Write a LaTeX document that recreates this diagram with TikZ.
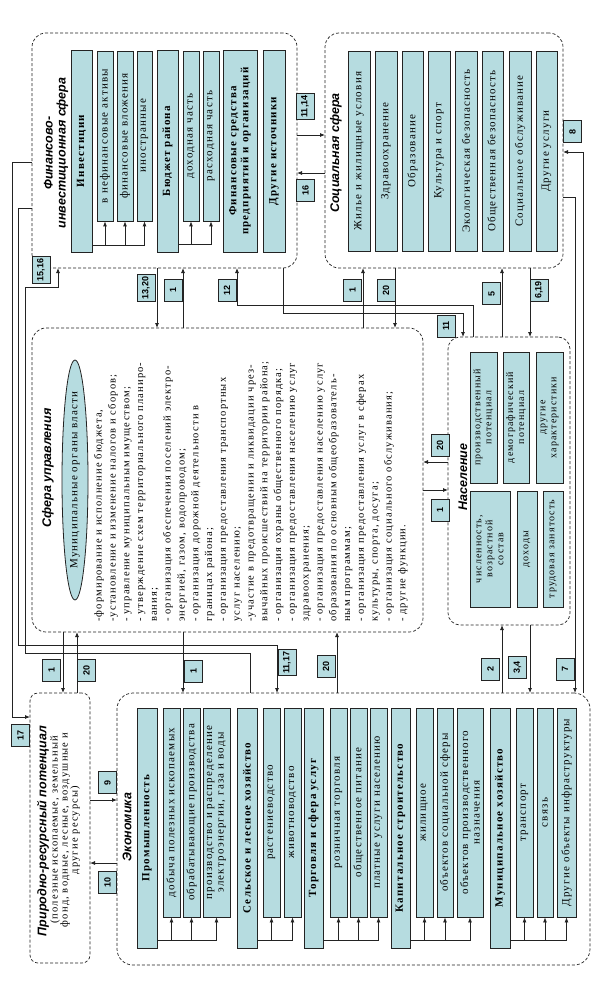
\documentclass[tikz,border=0pt]{standalone}
\usepackage{fontspec}
\setmainfont{Liberation Serif}
\newfontfamily\rusfont[LetterSpace=11]{Liberation Serif}
\newfontfamily\headfont{Liberation Sans}
\usepackage{graphicx}
\usetikzlibrary{shapes.geometric, arrows.meta, positioning, calc}
\definecolor{barfill}{RGB}{182, 220, 224}
\definecolor{lineblack}{RGB}{35, 35, 35}
\tikzset{
  >=Latex,
  flowarrow/.style={-{Latex[length=5pt, width=4pt]}, line width=0.8pt, lineblack}
}

\begin{document}
\begin{tikzpicture}[
    x=1pt, y=-1pt,
    spherebox/.style={rectangle, draw=lineblack, dash pattern=on 3pt off 2pt, line width=0.7pt, rounded corners=14pt, inner sep=0pt, outer sep=0pt},
    itembar/.style={rectangle, draw=lineblack, fill=barfill, line width=0.8pt, rotate=90, inner sep=1pt, align=center, font=\rusfont\fontsize{11}{11.5}\selectfont},
    headbar/.style={itembar, font=\rusfont\bfseries\fontsize{11}{12}\selectfont},
    popbar/.style={itembar, font=\rusfont\fontsize{10}{11}\selectfont},
    spheretitle/.style={rotate=90, align=center, inner sep=0pt, font=\headfont\bfseries\itshape\fontsize{12.5}{13}\selectfont},
    numlabel/.style={rectangle, draw=lineblack, fill=barfill, line width=0.8pt, inner sep=2pt, minimum width=18pt, minimum height=22pt, font=\headfont\bfseries\fontsize{9}{11}\selectfont}
]
    \path[use as bounding box, fill=white] (0,0) rectangle (600,984);

    % Spheres
    \node[spherebox, minimum width=265pt, minimum height=235pt] (fin) at (164.5,150.5) {};
    \node[spherebox, minimum width=238pt, minimum height=235pt] (soc) at (444,150.5) {};
    \node[spherebox, minimum width=391pt, minimum height=304pt] (mgmt) at (227.5,480) {};
    \node[spherebox, minimum width=122pt, minimum height=288pt, rounded corners=12pt] (pop) at (509,481) {};
    \node[spherebox, minimum width=60pt, minimum height=270pt, rounded corners=8pt] (nat) at (60,828) {};
    \node[spherebox, minimum width=473pt, minimum height=272pt, rounded corners=16pt] (eco) at (353.5,829) {};

    % Titles
    \node[spheretitle] (fintitle) at (56,153) {Финансово-\\инвестиционная сфера};
    \node[spheretitle] (soctitle) at (336,153) {Социальная сфера};
    \node[spheretitle] (mgmttitle) at (48,468) {Сфера управления};
    \node[spheretitle] (poptitle) at (463,477) {Население};
    \node[spheretitle] (nattitle) at (43,831) {Природно-ресурсный потенциал};
    \node[spheretitle] (ecotitle) at (127,827) {Экономика};
    \node[rotate=90, align=center, inner sep=0pt, font=\rusfont\fontsize{10.5}{10}\selectfont] (natnote) at (65,830) {(полезные ископаемые, земельный\\фонд, водные, лесные, воздушные и\\другие ресурсы)};

    % Financial sphere
    \node[headbar, minimum width=202pt, minimum height=21pt] (invest) at (81.5,151) {Инвестиции};
    \node[itembar, minimum width=170pt, minimum height=16pt] (investA) at (105,136) {в нефинансовые активы};
    \node[itembar, minimum width=170pt, minimum height=16pt] (investB) at (125,136) {финансовые вложения};
    \node[itembar, minimum width=170pt, minimum height=15pt] (investC) at (144.5,136) {иностранные};
    \node[headbar, minimum width=202pt, minimum height=21pt] (budget) at (167.5,151) {Бюджет района};
    \node[itembar, minimum width=170pt, minimum height=16pt] (budgetA) at (191,136) {доходная часть};
    \node[itembar, minimum width=170pt, minimum height=16pt] (budgetB) at (211,136) {расходная часть};
    \node[headbar, minimum width=202pt, minimum height=34pt] (firms) at (240,151) {Финансовые средства\\предприятий и организаций};
    \node[headbar, minimum width=202pt, minimum height=22pt] (othersrc) at (274,151) {Другие источники};

    % Social sphere
    \node[itembar, minimum width=200pt, minimum height=22pt] (housing) at (359,151) {Жилье и жилищные условия};
    \node[itembar, minimum width=200pt, minimum height=22pt] (health) at (386,151) {Здравоохранение};
    \node[itembar, minimum width=200pt, minimum height=21pt] (educ) at (412.5,151) {Образование};
    \node[itembar, minimum width=200pt, minimum height=22pt] (culture) at (439,151) {Культура и спорт};
    \node[itembar, minimum width=200pt, minimum height=22pt] (ecosafe) at (466,151) {Экологическая безопасность};
    \node[itembar, minimum width=200pt, minimum height=21pt] (pubsafe) at (492.5,151) {Общественная безопасность};
    \node[itembar, minimum width=200pt, minimum height=22pt] (socserv) at (520,151) {Социальное обслуживание};
    \node[itembar, minimum width=200pt, minimum height=21pt] (othserv) at (546.5,151) {Другие услуги};

    % Management sphere
    \node[ellipse, draw=lineblack, fill=barfill, line width=0.8pt, rotate=90, minimum width=240pt, minimum height=26pt, inner sep=0pt, font=\rusfont\fontsize{11}{12}\selectfont] (organs) at (75,480) {\makebox[0pt]{Муниципальные органы власти}};
    \node[rotate=90, anchor=north west, align=left, inner sep=0pt, font=\rusfont\fontsize{10.5}{13.8}\selectfont] (tasks) at (94,622) {-формирование и исполнение бюджета,\\
-установление и изменение налогов и сборов;\\
- управление муниципальным имуществом;\\
- утверждение схем территориального планиро-\\
вания;\\
- организация обеспечения поселений электро-\\
энергией, газом, водопроводом;\\
- организация дорожной деятельности в\\
границах района;\\
- организация предоставления транспортных\\
услуг населению;\\
-участие в предотвращении и ликвидации чрез-\\
вычайных происшествий на территории района;\\
- организация охраны общественного порядка;\\
- организация предоставления населению услуг\\
здравоохранения;\\
- организация предоставления населению услуг\\
образования по основным общеобразователь-\\
ным программам;\\
- организация предоставления услуг  в сферах\\
культуры, спорта, досуга;\\
- организация социального обслуживания;\\
- другие функции.};

    % Population
    \node[popbar, minimum width=131pt, minimum height=27pt] (prodpot) at (483.5,417.5) {производственный\\потенциал};
    \node[popbar, minimum width=131pt, minimum height=26pt] (demopot) at (516,417.5) {демографический\\потенциал};
    \node[popbar, minimum width=131pt, minimum height=27pt] (otherchar) at (549.5,417.5) {другие\\характеристики};
    \node[popbar, minimum width=116pt, minimum height=40pt] (number) at (490,549) {численность,\\возрастной\\состав};
    \node[popbar, minimum width=116pt, minimum height=20pt] (income) at (527,549) {доходы};
    \node[popbar, minimum width=116pt, minimum height=20pt] (labour) at (553,549) {трудовая занятость};

    % Economy
    \node[headbar, minimum width=240pt, minimum height=20pt] (industry) at (147,828) {Промышленность};
    \node[itembar, minimum width=209pt, minimum height=17pt] (industryA) at (171.5,812.5) {добыча полезных ископаемых};
    \node[itembar, minimum width=209pt, minimum height=17pt] (industryB) at (191.5,812.5) {обрабатывающие производства};
    \node[itembar, minimum width=209pt, minimum height=27pt] (industryC) at (216.5,812.5) {производство и распределение\\электроэнергии, газа и воды};
    \node[headbar, minimum width=240pt, minimum height=20pt] (agri) at (247,828) {Сельское и лесное хозяйство};
    \node[itembar, minimum width=209pt, minimum height=17pt] (agriA) at (271.5,812.5) {растениеводство};
    \node[itembar, minimum width=209pt, minimum height=17pt] (agriB) at (292.5,812.5) {животноводство};
    \node[headbar, minimum width=240pt, minimum height=19pt] (trade) at (313.5,828) {Торговля и сфера услуг};
    \node[itembar, minimum width=209pt, minimum height=17pt] (tradeA) at (338.5,812.5) {розничная торговля};
    \node[itembar, minimum width=209pt, minimum height=17pt] (tradeB) at (358.5,812.5) {общественное питание};
    \node[itembar, minimum width=209pt, minimum height=17pt] (tradeC) at (378.5,812.5) {платные услуги населению};
    \node[headbar, minimum width=240pt, minimum height=19pt] (build) at (400.5,828) {Капитальное строительство};
    \node[itembar, minimum width=209pt, minimum height=17pt] (buildA) at (424.5,812.5) {жилищное};
    \node[itembar, minimum width=209pt, minimum height=16pt] (buildB) at (445,812.5) {объектов социальной сферы};
    \node[itembar, minimum width=209pt, minimum height=26pt] (buildC) at (470,812.5) {объектов производственного\\назначения};
    \node[headbar, minimum width=240pt, minimum height=20pt] (munic) at (500,828) {Муниципальное хозяйство};
    \node[itembar, minimum width=209pt, minimum height=17pt] (municA) at (524.5,812.5) {транспорт};
    \node[itembar, minimum width=209pt, minimum height=16pt] (municB) at (545,812.5) {связь};
    \node[itembar, minimum width=209pt, minimum height=19pt] (municC) at (566.5,812.5) {Другие объекты инфраструктуры};

    % Arrows inside spheres
    \draw[flowarrow] ([yshift=7pt]invest.south west) -| (investA.west);
    \draw[flowarrow] ([yshift=7pt]invest.south west) -| (investB.west);
    \draw[flowarrow] ([yshift=7pt]invest.south west) -| (investC.west);
    \draw[flowarrow] ([yshift=8pt]budget.south west) -| (budgetA.west);
    \draw[flowarrow] ([yshift=8pt]budget.south west) -| (budgetB.west);
    \draw[flowarrow] ([yshift=8pt]industry.south west) -| (industryA.west);
    \draw[flowarrow] ([yshift=8pt]industry.south west) -| (industryB.west);
    \draw[flowarrow] ([yshift=8pt]industry.south west) -| (industryC.west);
    \draw[flowarrow] ([yshift=8pt]agri.south west) -| (agriA.west);
    \draw[flowarrow] ([yshift=8pt]agri.south west) -| (agriB.west);
    \draw[flowarrow] ([yshift=8pt]trade.south west) -| (tradeA.west);
    \draw[flowarrow] ([yshift=8pt]trade.south west) -| (tradeB.west);
    \draw[flowarrow] ([yshift=8pt]trade.south west) -| (tradeC.west);
    \draw[flowarrow] ([yshift=8pt]build.south west) -| (buildA.west);
    \draw[flowarrow] ([yshift=8pt]build.south west) -| (buildB.west);
    \draw[flowarrow] ([yshift=8pt]build.south west) -| (buildC.west);
    \draw[flowarrow] ([yshift=8pt]munic.south west) -| (municA.west);
    \draw[flowarrow] ([yshift=8pt]munic.south west) -| (municB.west);
    \draw[flowarrow] ([yshift=8pt]munic.south west) -| (municC.west);

    % Arrows between spheres
    \draw[flowarrow] (fin.east |- 0,135) -- (soc.west |- 0,135);
    \draw[flowarrow] (soc.west |- 0,173) -- (fin.east |- 0,173);
    \draw[flowarrow] (soc.east |- 0,197) -| (eco.north -| 575,0);
    \draw[flowarrow] (eco.north -| 583,0) |- (soc.east |- 0,152);
    \draw[flowarrow] (fin.west |- 0,162) -| (12,717) -- (nat.west |- 0,717);
    \draw[flowarrow] (fin.west |- 0,208) -| (18,645) -| (eco.north -| 277,0);
    \draw[flowarrow] (eco.north -| 250,0) |- (25,653) -- (25,287) -| (fin.south -| 58,0);
    \draw[flowarrow] (fin.south -| 157,0) -- (mgmt.north -| 157,0);
    \draw[flowarrow] (mgmt.north -| 183,0) -- (fin.south -| 183,0);
    \draw[flowarrow] (pop.north -| 473,0) |- (237,305) -- (fin.south -| 237,0);
    \draw[flowarrow] (fin.south -| 283,0) |- (463,313) -- (pop.north -| 463,0);
    \draw[flowarrow] (mgmt.north -| 363,0) -- (soc.south -| 363,0);
    \draw[flowarrow] (soc.south -| 395,0) -- (mgmt.north -| 395,0);
    \draw[flowarrow] (pop.north -| 502,0) -- (soc.south -| 502,0);
    \draw[flowarrow] (soc.south -| 530,0) -- (pop.north -| 530,0);
    \draw[flowarrow] (mgmt.east |- 0,490) -- (pop.west |- 0,490);
    \draw[flowarrow] (pop.west |- 0,462) -- (mgmt.east |- 0,462);
    \draw[flowarrow] (mgmt.south -| 63,0) -- (nat.north -| 63,0);
    \draw[flowarrow] (nat.north -| 77,0) -- (mgmt.south -| 77,0);
    \draw[flowarrow] (nat.east |- 0,800) -- (eco.west |- 0,800);
    \draw[flowarrow] (eco.west |- 0,863) -- (nat.east |- 0,863);
    \draw[flowarrow] (mgmt.south -| 183,0) -- (eco.north -| 183,0);
    \draw[flowarrow] (eco.north -| 337,0) -- (mgmt.south -| 337,0);
    \draw[flowarrow] (eco.north -| 502,0) -- (pop.south -| 502,0);
    \draw[flowarrow] (pop.south -| 530,0) -- (eco.north -| 530,0);

    % Flow numbers
    \node[numlabel] (l1516) at (41,270) {\rotatebox{90}{15,16}};
    \node[numlabel] (l1320) at (146,288) {\rotatebox{90}{13,20}};
    \node[numlabel] (l1fin) at (173,290) {\rotatebox{90}{1}};
    \node[numlabel] (l12) at (227,290) {\rotatebox{90}{12}};
    \node[numlabel] (l1soc) at (352.5,290) {\rotatebox{90}{1}};
    \node[numlabel] (l20soc) at (386,290) {\rotatebox{90}{20}};
    \node[numlabel] (l11) at (446,326) {\rotatebox{90}{11}};
    \node[numlabel] (l5) at (491.5,293.5) {\rotatebox{90}{5}};
    \node[numlabel] (l619) at (539,290) {\rotatebox{90}{6,19}};
    \node[numlabel] (l1114) at (305,106.5) {\rotatebox{90}{11,14}};
    \node[numlabel] (l16) at (305.5,190) {\rotatebox{90}{16}};
    \node[numlabel] (l8) at (572.5,131.5) {\rotatebox{90}{8}};
    \node[numlabel] (l1pop) at (440,510) {\rotatebox{90}{1}};
    \node[numlabel] (l20pop) at (440,445) {\rotatebox{90}{20}};
    \node[numlabel] (l1nat) at (51.5,670) {\rotatebox{90}{1}};
    \node[numlabel] (l20nat) at (86.5,670) {\rotatebox{90}{20}};
    \node[numlabel] (l17) at (20.5,735) {\rotatebox{90}{17}};
    \node[numlabel] (l9) at (107.5,782.5) {\rotatebox{90}{9}};
    \node[numlabel] (l10) at (107.5,882.5) {\rotatebox{90}{10}};
    \node[numlabel] (l1eco) at (193.5,671) {\rotatebox{90}{1}};
    \node[numlabel] (l1117) at (287,662.5) {\rotatebox{90}{11,17}};
    \node[numlabel] (l20eco) at (326,666.5) {\rotatebox{90}{20}};
    \node[numlabel] (l2) at (490.5,669) {\rotatebox{90}{2}};
    \node[numlabel] (l34) at (517.5,667.5) {\rotatebox{90}{3,4}};
    \node[numlabel] (l7) at (565,669) {\rotatebox{90}{7}};
\end{tikzpicture}
\end{document}
